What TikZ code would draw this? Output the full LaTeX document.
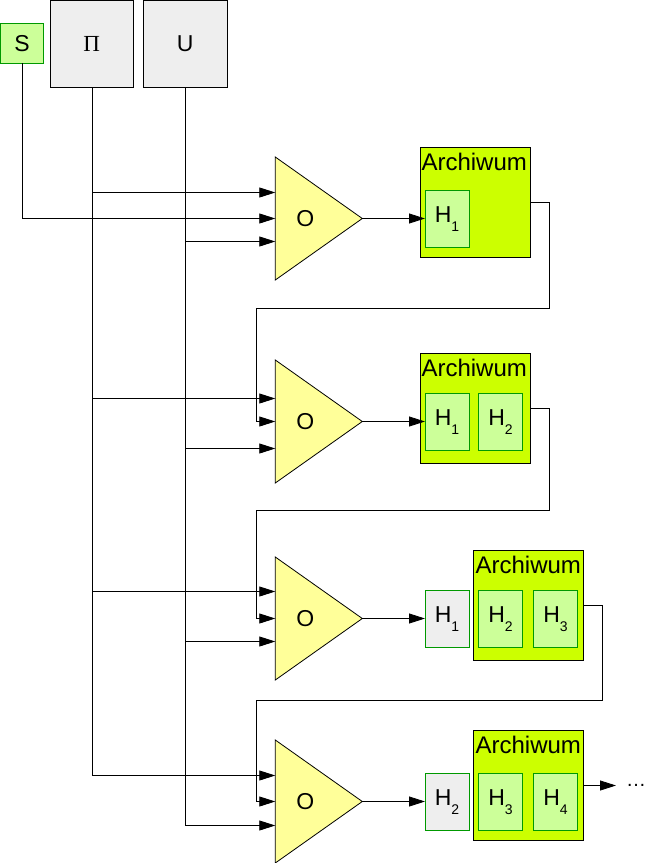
\documentclass[tikz,border=0pt]{standalone}
\usepackage{fontspec}
\setmainfont{Liberation Sans}
\newfontfamily\serifpi{Liberation Serif}
\usepackage{tikz}
\usetikzlibrary{arrows.meta}
\usetikzlibrary{shapes.geometric}
\definecolor{boxgrey}{HTML}{EEEEEE}
\definecolor{stategreen}{HTML}{CCFF99}
\definecolor{edgegreen}{HTML}{009900}
\definecolor{archlime}{HTML}{CCFF00}
\definecolor{triyellow}{HTML}{FFFF99}
\tikzset{
    every node/.style={font=\fontsize{23}{26}\selectfont, inner sep=0pt, outer sep=0pt},
    flow/.style={line width=0.8pt, -{Triangle[length=16pt, width=10pt]}},
    wire/.style={line width=0.8pt},
    input/.style={rectangle, draw=black, line width=0.8pt, fill=boxgrey, minimum height=87.5pt},
    arch/.style={rectangle, draw=black, line width=0.8pt, fill=archlime, minimum size=110pt},
    archtext/.style={anchor=base, font=\fontsize{24}{26}\selectfont},
    hist/.style={rectangle, draw=edgegreen, line width=0.8pt, fill=stategreen, minimum width=44pt, minimum height=57pt},
    oldhist/.style={hist, fill=boxgrey},
    amp/.style={isosceles triangle, isosceles triangle stretches, shape border rotate=0, draw=black, line width=0.8pt, fill=triyellow, minimum width=123pt, minimum height=87pt, anchor=lower side},
}
\newcommand{\hsub}[1]{H\raisebox{-8.4pt}{\fontsize{14}{14}\selectfont #1}}
\begin{document}
\begin{tikzpicture}[x=1pt, y=-1pt]
    \useasboundingbox (0, 0) rectangle (666, 863);
    \node[hist, minimum width=43pt, minimum height=40pt] (S) at (22, 43.3) {S};
    \node[input, minimum width=83pt] (P) at (91.8, 44) {\serifpi Π};
    \node[input, minimum width=84pt] (U) at (185.3, 44) {U};
    % stages: y of the triangle centre, y of the top and bottom inputs
    \foreach \n/\y/\a/\b in {1/218.5/192.5/241.5, 2/421.5/398.5/448.5, 3/618.5/591.5/641.5, 4/801.5/775.5/825.5}
    {
        \node[amp] (O\n) at (275.3, \y) {O};
        \coordinate (Pa\n) at (92.5, \a);
        \coordinate (Ua\n) at (185.5, \b);
        \draw[flow] (Pa\n) -- (O\n.lower side |- Pa\n);
        \draw[flow] (Ua\n) -- (O\n.lower side |- Ua\n);
    }
    \draw[wire] (P.south -| Pa4) -- (Pa4);
    \draw[wire] (U.south -| Ua4) -- (Ua4);
    \draw[flow] (S.south) |- (O1.lower side);
    % archives
    \node[arch] (A1) at (475.5, 202.5) {};
    \node[archtext] (T1) at (474.2, 170) {Archiwum};
    \node[arch] (A2) at (475.5, 408.5) {};
    \node[archtext] (T2) at (474.2, 376) {Archiwum};
    \node[arch] (A3) at (528.5, 605.5) {};
    \node[archtext] (T3) at (528.3, 573) {Archiwum};
    \node[arch] (A4) at (528.5, 785.5) {};
    \node[archtext] (T4) at (528.3, 753) {Archiwum};
    \node[hist] (H11) at (447, 219) {\hsub{1}};
    \node[hist] (H21) at (447, 422) {\hsub{1}};
    \node[hist] (H22) at (500.5, 422) {\hsub{2}};
    \node[oldhist] (H31) at (447, 619) {\hsub{1}};
    \node[hist] (H32) at (500.5, 619) {\hsub{2}};
    \node[hist] (H33) at (555.5, 619) {\hsub{3}};
    \node[oldhist] (H41) at (447, 802) {\hsub{2}};
    \node[hist] (H42) at (500.5, 802) {\hsub{3}};
    \node[hist] (H43) at (555.5, 802) {\hsub{4}};
    \foreach \n in {1, 2, 3, 4}
    {
        \draw[flow] (O\n.apex) -- (H\n1.west |- O\n.apex);
    }
    % feedback from each archive to the next stage
    \draw[flow] (A1.east) -| (549.5, 308.5) -| (256.5, 421.5) -- (O2.lower side);
    \draw[flow] (A2.east) -| (549.5, 510.5) -| (256.5, 618.5) -- (O3.lower side);
    \draw[flow] (A3.east) -| (602.5, 700.5) -| (256.5, 801.5) -- (O4.lower side);
    \node (dots) at (636, 785) {\fontsize{20}{20}\selectfont …};
    \coordinate (E) at (616, 785.5);
    \draw[flow] (A4.east) -- (E);
\end{tikzpicture}
\end{document}
